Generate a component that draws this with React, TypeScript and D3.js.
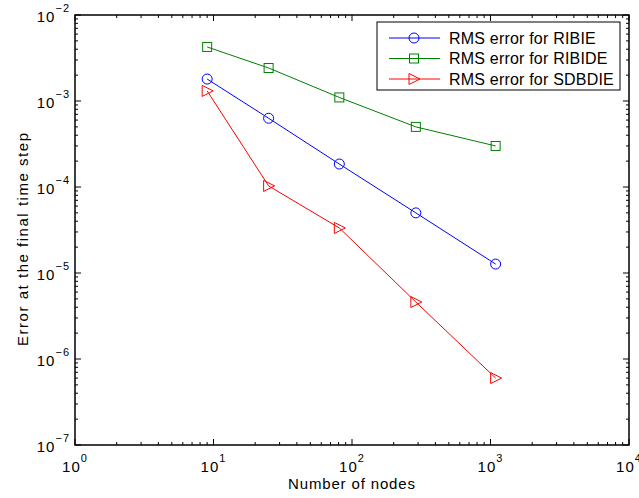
import React from "react";
import * as d3 from "d3";

const nodes = [9, 25, 81, 289, 1089];
const ribie = [1.8e-3, 6.3e-4, 1.85e-4, 5.0e-5, 1.27e-5];
const ribide = [4.25e-3, 2.42e-3, 1.1e-3, 5.0e-4, 3.0e-4];
const sdbdie = [1.31e-3, 1.03e-4, 3.34e-5, 4.6e-6, 6.0e-7];
const xExps = [0, 1, 2, 3, 4];
const yExps = [-7, -6, -5, -4, -3, -2];
const seriesNames = ["RMS error for RIBIE", "RMS error for RIBIDE", "RMS error for SDBDIE"];
const seriesColors = ["#0000ff", "#008000", "#ff0000"];

const W = 639, H = 498;
const L = 75, R = 629, T = 15, B = 445;
const font = "Arial, 'Liberation Sans', Helvetica, sans-serif";

function Marker({ kind, x, y, color }: { kind: number; x: number; y: number; color: string }) {
  if (kind === 0) return <circle cx={x} cy={y} r={5} fill="none" stroke={color} strokeWidth={1} />;
  if (kind === 1) return <rect x={x - 4.5} y={y - 4.5} width={9} height={9} fill="none" stroke={color} strokeWidth={1} />;
  return <path d={`M${x - 5},${y - 5.5}L${x + 6},${y}L${x - 5},${y + 5.5}Z`} fill="none" stroke={color} strokeWidth={1} />;
}

export default function App() {
  const x = d3.scaleLog().domain([1, 1e4]).range([L, R]);
  const y = d3.scaleLog().domain([1e-7, 1e-2]).range([B, T]);
  const data = [ribie, ribide, sdbdie];
  const line = d3.line<[number, number]>().x(d => x(d[0])).y(d => y(d[1]));

  const xMinor: number[] = [];
  for (let e = 0; e < 4; e++) for (let m = 2; m <= 9; m++) xMinor.push(m * Math.pow(10, e));
  const yMinor: number[] = [];
  for (let e = -7; e < -2; e++) for (let m = 2; m <= 9; m++) yMinor.push(m * Math.pow(10, e));

  const legX = 377, legY = 22, legW = 243, legH = 68;
  return (
    <svg width={W} height={H} style={{ display: "block", position: "absolute", left: 0, top: 0 }}>
      <rect width={W} height={H} fill="#fff" />
      <g stroke="#000" strokeWidth={1}>
        {xExps.map(e => (
          <g key={"xM" + e}>
            <line x1={x(10 ** e)} x2={x(10 ** e)} y1={B} y2={B - 6} />
            <line x1={x(10 ** e)} x2={x(10 ** e)} y1={T} y2={T + 6} />
          </g>
        ))}
        {xMinor.map((v, i) => (
          <g key={"xm" + i}>
            <line x1={x(v)} x2={x(v)} y1={B} y2={B - 3} />
            <line x1={x(v)} x2={x(v)} y1={T} y2={T + 3} />
          </g>
        ))}
        {yExps.map(e => (
          <g key={"yM" + e}>
            <line x1={L} x2={L + 6} y1={y(10 ** e)} y2={y(10 ** e)} />
            <line x1={R} x2={R - 6} y1={y(10 ** e)} y2={y(10 ** e)} />
          </g>
        ))}
        {yMinor.map((v, i) => (
          <g key={"ym" + i}>
            <line x1={L} x2={L + 3} y1={y(v)} y2={y(v)} />
            <line x1={R} x2={R - 3} y1={y(v)} y2={y(v)} />
          </g>
        ))}
      </g>
      {data.map((s, k) => (
        <g key={k}>
          <path d={line(nodes.map((n, i) => [n, s[i]] as [number, number])) || ""} fill="none" stroke={seriesColors[k]} strokeWidth={1} />
          {nodes.map((n, i) => (
            <Marker key={i} kind={k} x={x(n)} y={y(s[i])} color={seriesColors[k]} />
          ))}
        </g>
      ))}
      <rect x={L} y={T} width={R - L} height={B - T} fill="none" stroke="#000" strokeWidth={1.5} />
      <g fontFamily={font} fill="#000">
        {xExps.map(e => (
          <text key={"xl" + e} x={x(10 ** e)} y={B + 27} fontSize={15} letterSpacing={1} textAnchor="middle">
            10<tspan fontSize={11} dy={-10}>{e}</tspan>
          </text>
        ))}
        {yExps.map(e => (
          <text key={"yl" + e} x={L - 5} y={y(10 ** e) + 7} fontSize={15} letterSpacing={1} textAnchor="end">
            10<tspan fontSize={11} dy={-10}>{"\u2212" + Math.abs(e)}</tspan>
          </text>
        ))}
        <text x={351.5} y={489} fontSize={15} textAnchor="middle" textLength={127} lengthAdjust="spacing">Number of nodes</text>
        <text transform={`translate(28,239.5) rotate(-90)`} fontSize={15} textAnchor="middle" textLength={213} lengthAdjust="spacing">Error at the final time step</text>
      </g>
      <rect x={legX} y={legY} width={legW} height={legH} fill="#fff" stroke="#000" strokeWidth={1} />
      {seriesNames.map((nm, k) => {
        const ly = 38 + k * 20.5;
        return (
          <g key={nm}>
            <line x1={389} x2={440} y1={ly} y2={ly} stroke={seriesColors[k]} strokeWidth={1} />
            <Marker kind={k} x={414} y={ly} color={seriesColors[k]} />
            <text x={449} y={ly + 5.5} fontSize={16} letterSpacing={0.2} fontFamily={font}>{nm}</text>
          </g>
        );
      })}
    </svg>
  );
}
